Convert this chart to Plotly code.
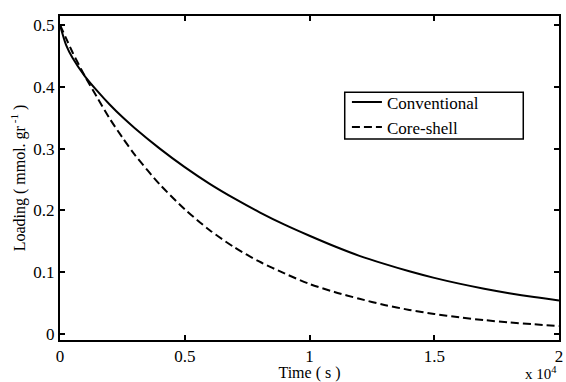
import plotly.graph_objects as go

# Time in seconds
time_s = [0, 250, 500, 1000, 1500, 2000, 2500, 3000, 4000, 5000, 6000, 7000, 8000, 9000,
          10000, 11000, 12000, 13000, 14000, 15000, 16000, 17000, 18000, 19000, 20000]
# Loading (mmol/gr)
conventional = [0.500, 0.467, 0.447, 0.417, 0.393, 0.371, 0.351, 0.333, 0.300, 0.270,
                0.243, 0.219, 0.197, 0.177, 0.159, 0.142, 0.1265, 0.1135, 0.1015, 0.0908,
                0.0815, 0.0733, 0.0661, 0.0598, 0.0542]
core_shell = [0.500, 0.478, 0.456, 0.417, 0.382, 0.348, 0.318, 0.290, 0.242, 0.202,
              0.168, 0.140, 0.117, 0.098, 0.081, 0.068, 0.057, 0.047, 0.039, 0.0325,
              0.027, 0.0225, 0.0188, 0.0157, 0.013]

x_ticks = [0, 0.5, 1, 1.5, 2]
x_ticktext = ["0", "0.5", "1", "1.5", "2"]
y_ticks = [0, 0.1, 0.2, 0.3, 0.4, 0.5]
y_ticktext = ["0", "0.1", "0.2", "0.3", "0.4", "0.5"]
x_scale = 1e4

xs = [t / x_scale for t in time_s]

FONT = "Liberation Serif, Times New Roman, serif"

fig = go.Figure()
fig.add_trace(go.Scatter(x=xs, y=conventional, mode="lines", name="Conventional",
                         line=dict(color="black", width=2, shape="spline", smoothing=0.8),
                         legendgroup="a"))
fig.add_trace(go.Scatter(x=xs, y=core_shell, mode="lines", name="Core-shell",
                         line=dict(color="black", width=2, dash="8px,4px", shape="spline", smoothing=0.8),
                         legendgroup="b"))

axis_common = dict(showline=True, linecolor="black", linewidth=2, mirror="ticks",
                   ticks="inside", ticklen=5, tickwidth=1.5, tickcolor="black",
                   showgrid=False, zeroline=False,
                   tickfont=dict(family=FONT, size=17, color="black"))

fig.update_xaxes(range=[0, 2], tickvals=x_ticks, ticktext=x_ticktext,
                 title=dict(text="Time ( s )", font=dict(family=FONT, size=16, color="black"), standoff=0),
                 **axis_common)
fig.update_yaxes(range=[-0.0097, 0.5146], tickvals=y_ticks, ticktext=y_ticktext,
                 title=dict(text="Loading ( mmol. gr<sup> -1</sup> )", font=dict(family=FONT, size=16, color="black"), standoff=4),
                 **axis_common)

fig.add_annotation(text="x 10<sup>4</sup>", xref="paper", yref="paper", x=1.0, y=-0.136,
                   xanchor="right", yanchor="bottom", showarrow=False,
                   font=dict(family=FONT, size=15, color="black"))

# legend frame
fig.add_shape(type="rect", xref="paper", yref="paper",
              x0=0.5706, x1=0.9284, y0=0.620, y1=0.765,
              line=dict(color="black", width=1.5), fillcolor="white", layer="below")

fig.update_layout(
    width=566, height=382,
    margin=dict(l=60, r=3, t=16, b=42),
    paper_bgcolor="white", plot_bgcolor="white",
    font=dict(family=FONT, size=16, color="black"),
    showlegend=True,
    legend=dict(x=0.575, y=0.789, xanchor="left", yanchor="top",
                borderwidth=0, bgcolor="rgba(0,0,0,0)",
                font=dict(family=FONT, size=17, color="black"),
                tracegroupgap=0),
)

fig.write_html("out.html", config={"displayModeBar": False},
               post_script="document.body.style.margin='0';")
